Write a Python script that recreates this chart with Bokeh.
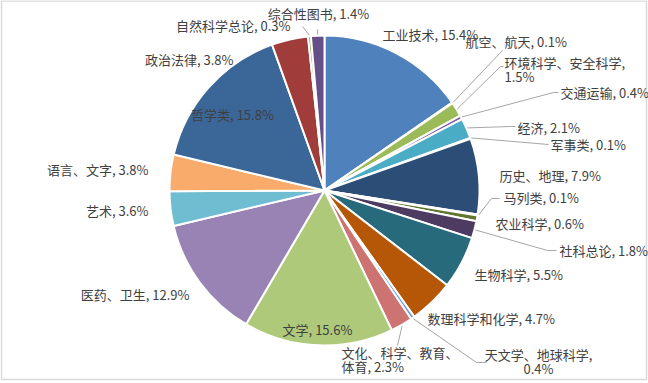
import math
from bokeh.plotting import figure
from bokeh.models import Range1d
from bokeh.core.properties import value
from bokeh.embed import file_html
from bokeh.resources import INLINE

# ---------------- data ----------------
categories = ["工业技术", "航空、航天", "环境科学、安全科学", "交通运输", "经济", "军事类",
              "历史、地理", "马列类", "农业科学", "社科总论", "生物科学", "数理科学和化学",
              "天文学、地球科学", "文化、科学、教育、体育", "文学", "医药、卫生", "艺术",
              "语言、文字", "哲学类", "政治法律", "自然科学总论", "综合性图书"]
values = [15.4, 0.1, 1.5, 0.4, 2.1, 0.1, 7.9, 0.1, 0.6, 1.8, 5.5, 4.7,
          0.4, 2.3, 15.6, 12.9, 3.6, 3.8, 15.8, 3.8, 0.3, 1.4]
colors = ["#4F81BD", "#C0504D", "#9BBB59", "#8064A2", "#4BACC6", "#F79646",
          "#2C4D75", "#772C2A", "#5F7530", "#4D3B62", "#276A7C", "#B65708",
          "#729ACA", "#CD7371", "#AFC97A", "#9983B5", "#6FBDD1", "#F9AB6B",
          "#3A6698", "#A03C3A", "#7FA043", "#654F88"]

# ---------------- layout (page px, y downward) ----------------
PAGE_W, PAGE_H = 648, 383
CX, CY, R = 324, 190, 155

# label anchor: (x, y, align, split)
label_layout = {
    "工业技术": (382, 34, "left", None),
    "航空、航天": (465, 41, "left", None),
    "环境科学、安全科学": (504, 62, "left", "value"),
    "交通运输": (560, 92, "left", None),
    "经济": (517, 127, "left", None),
    "军事类": (550, 144, "left", None),
    "历史、地理": (499, 175, "left", None),
    "马列类": (503, 197, "left", None),
    "农业科学": (495, 223, "left", None),
    "社科总论": (559, 250, "left", None),
    "生物科学": (474, 274, "left", None),
    "数理科学和化学": (427, 318, "left", None),
    "天文学、地球科学": (538, 354, "center", "value"),
    "文化、科学、教育、体育": (341, 352, "left", 9),
    "文学": (317, 329, "center", None),
    "医药、卫生": (189, 294, "right", None),
    "艺术": (148, 210, "right", None),
    "语言、文字": (148, 169, "right", None),
    "哲学类": (232, 114, "center", None),
    "政治法律": (233, 59, "right", None),
    "自然科学总论": (290, 25, "right", None),
    "综合性图书": (318, 13, "center", None),
}
LINE_GAP = 14

# leader lines: label-side points (page px)
leaders = {
    "综合性图书": [(317, 29)],
    "自然科学总论": [(302, 26)],
    "航空、航天": [(502, 50)],
    "环境科学、安全科学": [(500, 66), (503, 66)],
    "交通运输": [(553, 92), (558, 92)],
    "经济": [(510, 126), (515, 126)],
    "军事类": [(548, 144)],
    "马列类": [(491, 198), (499, 198)],
    "社科总论": [(547, 250), (556, 250)],
    "天文学、地球科学": [(476, 362), (486, 362)],
    "文化、科学、教育、体育": [(397, 345)],
}


def fy(sy):
    return PAGE_H - sy


total = sum(values)
starts, ends, mids = [], [], []
cum = 0.0
for v in values:
    a0 = cum / total
    cum += v
    a1 = cum / total
    starts.append(math.pi / 2 - 2 * math.pi * a0)
    ends.append(math.pi / 2 - 2 * math.pi * a1)
    mids.append((a0 + a1) / 2)

p = figure(width=PAGE_W, height=PAGE_H, output_backend="svg", toolbar_location=None,
           x_range=Range1d(0, PAGE_W), y_range=Range1d(0, PAGE_H), min_border=0)
p.axis.visible = False
p.grid.visible = False
p.outline_line_color = None
p.background_fill_color = "white"
p.border_fill_color = "white"

# chart frame
p.quad(left=1, right=646, top=fy(0.5), bottom=fy(379), fill_color=None,
       line_color="#D9D9D9", line_width=1.5)

p.wedge(x=[CX] * len(values), y=[fy(CY)] * len(values), radius=R,
        start_angle=starts, end_angle=ends, direction="clock",
        fill_color=colors, line_color="white", line_width=2)

# leader lines
xs, ys = [], []
for i, c in enumerate(categories):
    if c not in leaders:
        continue
    ang = 2 * math.pi * mids[i]
    ex = CX + (R + 1) * math.sin(ang)
    ey = CY - (R + 1) * math.cos(ang)
    pts = [(ex, ey)] + leaders[c]
    xs.append([pt[0] for pt in pts])
    ys.append([fy(pt[1]) for pt in pts])
p.multi_line(xs=xs, ys=ys, line_color="#A6A6A6", line_width=1)

# labels
groups = {"left": ([], [], []), "center": ([], [], []), "right": ([], [], [])}
for c, v in zip(categories, values):
    x, y, align, split = label_layout[c]
    full = f"{c}, {v}%"
    if split is None:
        lines = [full]
    elif split == "value":
        lines = [f"{c},", f"{v}%"]
    else:
        lines = [c[:split], f"{c[split:]}, {v}%"]
    gx, gy, gt = groups[align]
    for k, t in enumerate(lines):
        gx.append(x)
        gy.append(fy(y + k * LINE_GAP))
        gt.append(t)

for align, (gx, gy, gt) in groups.items():
    if gx:
        p.text(x=gx, y=gy, text=gt, text_align=align, text_baseline="middle",
               text_font=value("Noto Sans CJK SC"), text_font_size="13px",
               text_color="#404040")

open("out.html", "w").write(file_html(p, INLINE))
